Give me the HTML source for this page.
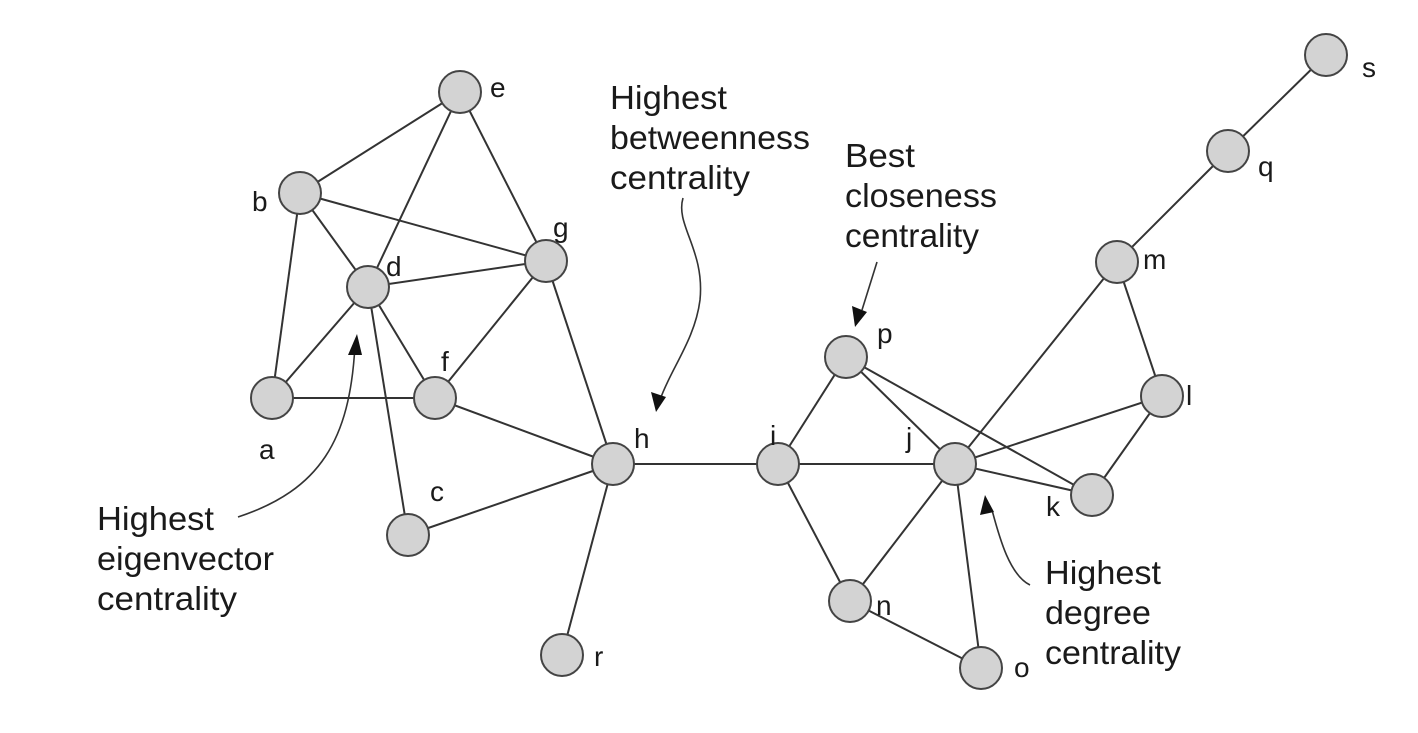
<!DOCTYPE html>
<html><head><style>body{margin:0;background:#fff}svg{display:block}text{font-family:"Liberation Sans",Arial,sans-serif;font-size:28px;fill:#1a1a1a}.t{font-size:33px}</style></head>
<body>
<svg width="1418" height="733" viewBox="0 0 1418 733">
<g stroke="#333" stroke-width="2" fill="none">
<line x1="460" y1="92" x2="300" y2="193"/>
<line x1="460" y1="92" x2="368" y2="287"/>
<line x1="460" y1="92" x2="546" y2="261"/>
<line x1="300" y1="193" x2="368" y2="287"/>
<line x1="300" y1="193" x2="546" y2="261"/>
<line x1="300" y1="193" x2="272" y2="398"/>
<line x1="368" y1="287" x2="546" y2="261"/>
<line x1="368" y1="287" x2="272" y2="398"/>
<line x1="368" y1="287" x2="435" y2="398"/>
<line x1="368" y1="287" x2="408" y2="535"/>
<line x1="272" y1="398" x2="435" y2="398"/>
<line x1="435" y1="398" x2="546" y2="261"/>
<line x1="435" y1="398" x2="613" y2="464"/>
<line x1="546" y1="261" x2="613" y2="464"/>
<line x1="408" y1="535" x2="613" y2="464"/>
<line x1="613" y1="464" x2="562" y2="655"/>
<line x1="613" y1="464" x2="778" y2="464"/>
<line x1="778" y1="464" x2="846" y2="357"/>
<line x1="778" y1="464" x2="955" y2="464"/>
<line x1="778" y1="464" x2="850" y2="601"/>
<line x1="846" y1="357" x2="955" y2="464"/>
<line x1="846" y1="357" x2="1092" y2="495"/>
<line x1="955" y1="464" x2="1092" y2="495"/>
<line x1="955" y1="464" x2="1162" y2="396"/>
<line x1="955" y1="464" x2="1117" y2="262"/>
<line x1="955" y1="464" x2="850" y2="601"/>
<line x1="955" y1="464" x2="981" y2="668"/>
<line x1="850" y1="601" x2="981" y2="668"/>
<line x1="1162" y1="396" x2="1092" y2="495"/>
<line x1="1162" y1="396" x2="1117" y2="262"/>
<line x1="1117" y1="262" x2="1228" y2="151"/>
<line x1="1228" y1="151" x2="1326" y2="55"/>
<path d="M238 517 C320 490 350 440 355 345" stroke-width="1.6"/>
<path d="M683 198 C675 225 705 250 700 300 C695 340 670 370 660 400" stroke-width="1.6"/>
<path d="M877 262 L862 310" stroke-width="1.6"/>
<path d="M1030 585 C1010 575 1000 540 992 510" stroke-width="1.6"/>
</g>
<g fill="#111">
<polygon points="357,334 348,355 362,355"/>
<polygon points="656,412 651,392 666,397"/>
<polygon points="855,327 852,306 867,312"/>
<polygon points="985,495 980,515 994,512"/>
</g>
<g fill="#d3d3d3" stroke="#444" stroke-width="2">
<circle cx="460" cy="92" r="21"/><circle cx="300" cy="193" r="21"/><circle cx="546" cy="261" r="21"/>
<circle cx="368" cy="287" r="21"/><circle cx="272" cy="398" r="21"/><circle cx="435" cy="398" r="21"/>
<circle cx="613" cy="464" r="21"/><circle cx="778" cy="464" r="21"/><circle cx="955" cy="464" r="21"/>
<circle cx="408" cy="535" r="21"/><circle cx="562" cy="655" r="21"/><circle cx="846" cy="357" r="21"/>
<circle cx="1092" cy="495" r="21"/><circle cx="1162" cy="396" r="21"/><circle cx="1117" cy="262" r="21"/>
<circle cx="1228" cy="151" r="21"/><circle cx="1326" cy="55" r="21"/><circle cx="850" cy="601" r="21"/>
<circle cx="981" cy="668" r="21"/>
</g>
<text x="490" y="97">e</text><text x="252" y="211">b</text><text x="553" y="237">g</text>
<text x="386" y="276">d</text><text x="259" y="459">a</text><text x="441" y="371">f</text>
<text x="634" y="448">h</text><text x="770" y="445">i</text><text x="906" y="447">j</text>
<text x="430" y="501">c</text><text x="594" y="666">r</text><text x="877" y="343">p</text>
<text x="1046" y="516">k</text><text x="1186" y="405">l</text><text x="1143" y="269">m</text>
<text x="1258" y="176">q</text><text x="1362" y="77">s</text><text x="876" y="615">n</text>
<text x="1014" y="677">o</text>
<g>
<text class="t" x="97" y="530" textLength="117" lengthAdjust="spacingAndGlyphs">Highest</text><text class="t" x="97" y="570" textLength="177" lengthAdjust="spacingAndGlyphs">eigenvector</text><text class="t" x="97" y="610" textLength="140" lengthAdjust="spacingAndGlyphs">centrality</text>
<text class="t" x="610" y="109" textLength="117" lengthAdjust="spacingAndGlyphs">Highest</text><text class="t" x="610" y="149" textLength="200" lengthAdjust="spacingAndGlyphs">betweenness</text><text class="t" x="610" y="189" textLength="140" lengthAdjust="spacingAndGlyphs">centrality</text>
<text class="t" x="845" y="167" textLength="70" lengthAdjust="spacingAndGlyphs">Best</text><text class="t" x="845" y="207" textLength="152" lengthAdjust="spacingAndGlyphs">closeness</text><text class="t" x="845" y="247" textLength="134" lengthAdjust="spacingAndGlyphs">centrality</text>
<text class="t" x="1045" y="584" textLength="116" lengthAdjust="spacingAndGlyphs">Highest</text><text class="t" x="1045" y="624" textLength="106" lengthAdjust="spacingAndGlyphs">degree</text><text class="t" x="1045" y="664" textLength="136" lengthAdjust="spacingAndGlyphs">centrality</text>
</g>
</svg>
</body></html>
